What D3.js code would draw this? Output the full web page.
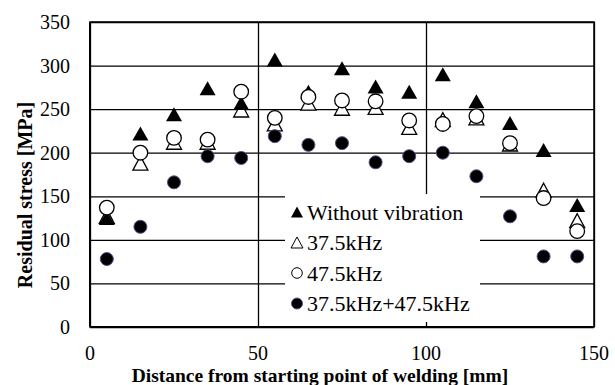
<!DOCTYPE html>
<html>
<head>
<meta charset="utf-8">
<script src="https://cdn.jsdelivr.net/npm/d3@7"></script>
<style>
  body { margin: 0; background: #fff; }
</style>
</head>
<body>
<div id="chart"></div>
<script>
// Chart data
const distances = [5, 15, 25, 35, 45, 55, 65, 75, 85, 95, 105, 115, 125, 135, 145];
const withoutVibration = [125, 222, 244, 274, 257, 307, 270, 297, 276, 270, 290, 259, 234, 203, 140];
const khz375 = [127, 188, 212, 212, 249, 233, 257, 251, 252, 229, 238, 240, 210, 157, 122];
const khz475 = [137, 200, 217, 215, 270, 240, 264, 260, 259, 237, 233, 242, 211, 148, 110];
const khzBoth = [78, 115, 166, 196, 194, 219, 209, 211, 189, 196, 200, 173, 127, 81, 81];
const seriesNames = ["Without vibration", "37.5kHz", "47.5kHz", "37.5kHz+47.5kHz"];
const xTicks = [0, 50, 100, 150];
const yTicks = [0, 50, 100, 150, 200, 250, 300, 350];

const FONT = '"Liberation Serif"';

const width = 615, height = 385;
const margin = {top: 22, right: 21, bottom: 58, left: 90};
const plotW = width - margin.left - margin.right;
const plotH = height - margin.top - margin.bottom;

let svg = d3.select("#chart")
    .append("svg")
    .attr("width", width)
    .attr("height", height)
    .style("font-family", FONT);

let g = svg.append("g")
    .attr("transform", `translate(${margin.left}, ${margin.top})`);

let x = d3.scaleLinear().domain([0, 150]).range([0, plotW]);
let y = d3.scaleLinear().domain([0, 350]).range([plotH, 0]);

// Horizontal gridlines
g.append("g")
    .call(d3.axisLeft(y).tickValues(yTicks).tickSize(-plotW).tickFormat(""))
    .call(a => a.select(".domain").remove())
    .selectAll("line")
    .attr("stroke", "#000")
    .attr("stroke-width", 1.3);

// Vertical gridlines
g.append("g")
    .attr("transform", `translate(0, ${plotH})`)
    .call(d3.axisBottom(x).tickValues(xTicks).tickSize(-plotH).tickFormat(""))
    .call(a => a.select(".domain").remove())
    .selectAll("line")
    .attr("stroke", "#000")
    .attr("stroke-width", 1.3);

// Plot border
g.append("rect")
    .attr("width", plotW)
    .attr("height", plotH)
    .attr("fill", "none")
    .attr("stroke", "#000")
    .attr("stroke-width", 1.5);
g.append("line").attr("x1", 0).attr("x2", 0).attr("y1", 0).attr("y2", plotH)
    .attr("stroke", "#000").attr("stroke-width", 2);
g.append("line").attr("x1", 0).attr("x2", plotW).attr("y1", plotH).attr("y2", plotH)
    .attr("stroke", "#000").attr("stroke-width", 2.2);

// Tick labels
g.selectAll(".ylab").data(yTicks).enter()
    .append("text")
    .attr("x", -20)
    .attr("y", d => y(d))
    .attr("dy", "0.35em")
    .style("font-family", FONT)
    .style("text-anchor", "end")
    .style("font-size", "20px")
    .text(d => d);

g.selectAll(".xlab").data(xTicks).enter()
    .append("text")
    .attr("x", d => x(d))
    .attr("y", plotH + 33)
    .style("font-family", FONT)
    .style("text-anchor", "middle")
    .style("font-size", "20px")
    .text(d => d);

// Axis titles
svg.append("text")
    .attr("x", 320)
    .attr("y", 382)
    .style("font-family", FONT)
    .style("text-anchor", "middle")
    .style("font-size", "19.5px")
    .style("font-weight", "bold")
    .text("Distance from starting point of welding [mm]");

svg.append("text")
    .attr("transform", `translate(32, 195) rotate(-90)`)
    .style("font-family", FONT)
    .style("text-anchor", "middle")
    .style("font-size", "20px")
    .style("font-weight", "bold")
    .text("Residual stress [MPa]");

// Legend background covers gridlines
let legend = svg.append("g");
legend.append("rect")
    .attr("x", 285).attr("y", 194)
    .attr("width", 195).attr("height", 128)
    .attr("fill", "#fff");

// Marker painters
const triPath = (w, h) => `M0,${-h / 2}L${w / 2},${h / 2}L${-w / 2},${h / 2}Z`;
function drawMarker(sel, kind, big) {
    if (kind === 0) {
        sel.append("path").attr("d", big ? triPath(16, 14) : triPath(12, 11))
            .attr("fill", "#000");
    } else if (kind === 1) {
        sel.append("path").attr("d", big ? triPath(15, 14) : triPath(12, 11))
            .attr("fill", "#fff").attr("stroke", "#000").attr("stroke-width", big ? 1.3 : 1);
    } else if (kind === 2) {
        sel.append("circle").attr("r", big ? 7.3 : 5.3)
            .attr("fill", "#fff").attr("stroke", "#000").attr("stroke-width", big ? 1.3 : 1);
    } else {
        sel.append("circle").attr("r", big ? 6.5 : 5.5)
            .attr("fill", "#000").attr("stroke", "#5a4a8a").attr("stroke-width", 1);
    }
}

// Series data, drawn in this order so overlaps look like the reference
const allSeries = [withoutVibration, khz375, khz475, khzBoth];
const drawOrder = [1, 0, 2, 3];
drawOrder.forEach(function(k) {
    let pts = distances.map((d, i) => ({x: d, v: allSeries[k][i]}));
    g.selectAll(".s" + k).data(pts).enter()
        .append("g")
        .attr("transform", d => `translate(${x(d.x)}, ${y(d.v)})`)
        .each(function() { drawMarker(d3.select(this), k, true); });
});

// Legend entries
seriesNames.forEach(function(name, i) {
    let row = legend.append("g").attr("transform", `translate(297, ${212 + i * 30.5})`);
    row.call(s => drawMarker(s, i, false));
    row.append("text")
        .attr("x", 10)
        .attr("dy", "0.35em")
        .style("font-family", FONT)
        .style("font-size", "22px")
        .text(name);
});
</script>
</body>
</html>
